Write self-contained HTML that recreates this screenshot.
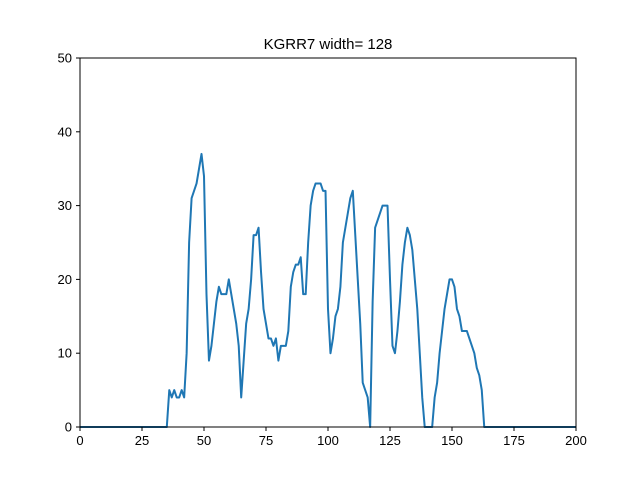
<!DOCTYPE html>
<html><head><meta charset="utf-8"><style>body{margin:0;background:#fff}svg{display:block;font-family:"Liberation Sans","DejaVu Sans",sans-serif}</style></head>
<body>
<svg id="chart" width="640" height="480">
<rect width="640" height="480" fill="#fff"/>
<text x="328" y="49" font-size="15" text-anchor="middle">KGRR7 width= 128</text>
<g id="plot"></g>
<rect x="80" y="58" width="496" height="369" fill="none" stroke="#000" stroke-width="1"/>
</svg>
<script>
const xTicks=[0,25,50,75,100,125,150,175,200];
const yTicks=[0,10,20,30,40,50];
const seriesStart=35;
const seriesValues=[0,5,4,5,4,4,5,4,10,25,31,32,33,35,37,34,18,9,11,14,17,19,18,18,18,20,18,16,14,11,4,9,14,16,20,26,26,27,21,16,14,12,12,11,12,9,11,11,11,13,19,21,22,22,23,18,18,25,30,32,33,33,33,32,32,16,10,12,15,16,19,25,27,29,31,32,26,20,14,6,5,4,0,17,27,28,29,30,30,30,20,11,10,13,17,22,25,27,26,24,20,16,10,4,0,0,0,0,4,6,10,13,16,18,20,20,19,16,15,13,13,13,12,11,10,8,7,5,0];
const L=80,R=576,T=58,B=427;
const sx=v=>L+(v-0)/(200-0)*(R-L);
const sy=v=>B-(v-0)/(50-0)*(B-T);
const svg=document.getElementById('chart');
const g=document.getElementById('plot');
const NS='http://www.w3.org/2000/svg';
function mk(t,a){const e=document.createElementNS(NS,t);for(const k in a)e.setAttribute(k,a[k]);return e;}
xTicks.forEach(v=>{
  const ln=mk('line',{x1:sx(v),x2:sx(v),y1:B,y2:B+4,stroke:'#000'});
  
  
  svg.appendChild(ln);
  const t=mk('text',{x:sx(v),y:B+18,'font-size':13,'text-anchor':'middle'});
  
  
  t.textContent=v;svg.appendChild(t);
});
yTicks.forEach(v=>{
  const ln=mk('line',{x1:L-4,x2:L,y1:sy(v),y2:sy(v),stroke:'#000'});
  
  
  svg.appendChild(ln);
  const t=mk('text',{x:L-8,y:sy(v)+4.5,'font-size':13,'text-anchor':'end'});
  
  
  t.textContent=v;svg.appendChild(t);
});
const pts=[];
for(let i=0;i<=200;i++){
  let v=0;
  const j=i-seriesStart;
  if(j>=0&&j<seriesValues.length)v=seriesValues[j];
  pts.push(sx(i).toFixed(2)+','+sy(v).toFixed(2));
}
const pl=mk('polyline',{points:pts.join(' '),fill:'none',stroke:'#1f77b4','stroke-width':2,'stroke-linejoin':'round'});


g.appendChild(pl);
</script>
</body></html>
